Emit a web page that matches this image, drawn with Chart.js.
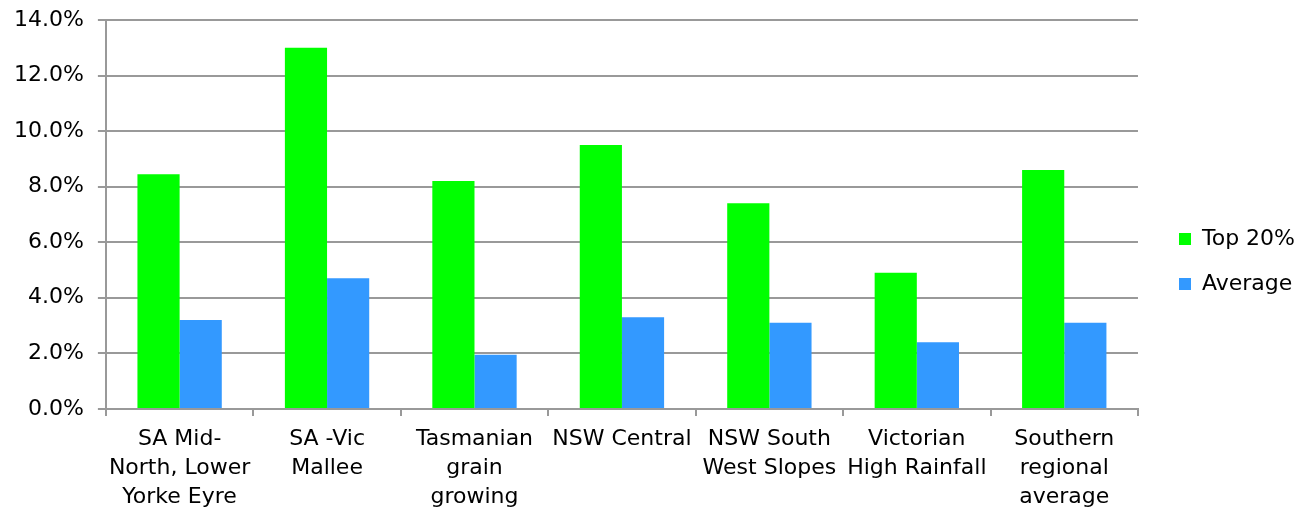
<!DOCTYPE html>
<html>
<head>
<meta charset="utf-8">
<script src="https://cdn.jsdelivr.net/npm/chart.js@4.4.1/dist/chart.umd.min.js"></script>
<style>
  html, body { margin: 0; padding: 0; background: #fff; overflow: hidden; }
  #wrap { width: 1299px; height: 521px; position: relative; }
</style>
</head>
<body>
<div id="wrap"><canvas id="c"></canvas></div>
<script>
// Return on capital by region, top 20% of farms vs average (%)
const regions = [
  ["SA Mid-", "North, Lower", "Yorke Eyre"],
  ["SA -Vic", "Mallee"],
  ["Tasmanian", "grain", "growing"],
  "NSW Central",
  ["NSW South", "West Slopes"],
  ["Victorian", "High Rainfall"],
  ["Southern", "regional", "average"]
];
const top20 = [8.45, 13.0, 8.2, 9.5, 7.4, 4.9, 8.6];
const average = [3.2, 4.7, 1.95, 3.3, 3.1, 2.4, 3.1];
const yTicks = { min: 0, max: 14, step: 2 };

const FONT = "'DejaVu Sans', sans-serif";
const GRID = '#999999';

// Leave a wider gap between the plot and the legend by nudging the legend right
const legendGap = {
  id: 'legendGap',
  afterLayout(chart) {
    const lg = chart.legend;
    if (lg) { lg.left += 18; lg.right += 18; lg.top += 1; lg.bottom += 1; }
  }
};

new Chart(document.getElementById('c'), {
  type: 'bar',
  data: {
    labels: regions,
    datasets: [
      { label: 'Top 20%', data: top20, backgroundColor: '#00FF00', borderWidth: 0 },
      { label: 'Average', data: average, backgroundColor: '#3399FF', borderWidth: 0 }
    ]
  },
  plugins: [legendGap],
  options: {
    responsive: true,
    maintainAspectRatio: false,
    animation: false,
    datasets: { bar: { categoryPercentage: 0.572, barPercentage: 1.0 } },
    layout: { padding: { left: 0, top: 0, right: 12, bottom: 0 } },
    plugins: {
      tooltip: { enabled: false },
      legend: {
        position: 'right',
        labels: {
          color: '#000',
          font: { family: FONT, size: 22 },
          boxWidth: 12,
          boxHeight: 12,
          padding: 23
        }
      }
    },
    scales: {
      x: {
        grid: { offset: true, drawOnChartArea: false, color: GRID, lineWidth: 2, tickLength: 7 },
        border: { color: GRID, width: 2 },
        ticks: {
          color: '#000',
          font: { family: FONT, size: 22, lineHeight: 1.32 },
          maxRotation: 0,
          autoSkip: false,
          padding: 9
        }
      },
      y: {
        min: yTicks.min,
        max: yTicks.max,
        grid: { color: GRID, lineWidth: 2, tickLength: 8 },
        border: { color: GRID, width: 2 },
        // only half the top label's height is needed above the plot
        afterFit(scale) { scale.paddingTop = 20; },
        ticks: {
          stepSize: yTicks.step,
          color: '#000',
          font: { family: FONT, size: 22 },
          padding: 14,
          callback: v => v.toFixed(1) + '%'
        }
      }
    }
  }
});
</script>
</body>
</html>
